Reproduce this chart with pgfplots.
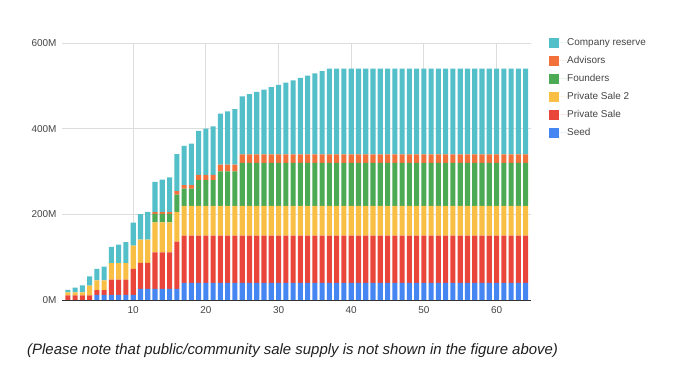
\documentclass[border=0pt]{standalone}
\usepackage{pgfplots}
\pgfplotsset{compat=1.18}
\usepackage{pgfplotstable}
\usepackage{fontspec}
\setmainfont{Liberation Sans}
\definecolor{cseed}{HTML}{4586F2}
\definecolor{cps}{HTML}{E9453A}
\definecolor{cpstwo}{HTML}{F9BF45}
\definecolor{cfnd}{HTML}{4CA954}
\definecolor{cadv}{HTML}{F2703A}
\definecolor{ccr}{HTML}{53BFC9}
\definecolor{ctick}{HTML}{444444}
\definecolor{cgrid}{HTML}{DDDDDD}
\pgfplotstableread{
n seed ps ps2 fnd adv cr
1 0 11 7 0 0 5.41
2 0 11 7 0 0 10.81
3 0 11 7 0 0 16.22
4 0 11 22.75 0 0 21.62
5 12 11 22.75 0 0 27.03
6 12 11 22.75 0 0 32.43
7 12 35.75 38.5 0 0 37.84
8 12 35.75 38.5 0 0 43.24
9 12 35.75 38.5 0 0 48.65
10 12 60.5 54.25 0 0 54.05
11 26 60.5 54.25 0 0 59.46
12 26 60.5 54.25 0 0 64.86
13 26 85.25 70 20 4 70.27
14 26 85.25 70 20 4 75.68
15 26 85.25 70 20 4 81.08
16 26 110 70 40 8 86.49
17 40 110 70 40 8 91.89
18 40 110 70 40 8 97.30
19 40 110 70 60 12 102.70
20 40 110 70 60 12 108.11
21 40 110 70 60 12 113.51
22 40 110 70 80 16 118.92
23 40 110 70 80 16 124.32
24 40 110 70 80 16 129.73
25 40 110 70 100 20 135.14
26 40 110 70 100 20 140.54
27 40 110 70 100 20 145.95
28 40 110 70 100 20 151.35
29 40 110 70 100 20 156.76
30 40 110 70 100 20 162.16
31 40 110 70 100 20 167.57
32 40 110 70 100 20 172.97
33 40 110 70 100 20 178.38
34 40 110 70 100 20 183.78
35 40 110 70 100 20 189.19
36 40 110 70 100 20 194.59
37 40 110 70 100 20 200
38 40 110 70 100 20 200
39 40 110 70 100 20 200
40 40 110 70 100 20 200
41 40 110 70 100 20 200
42 40 110 70 100 20 200
43 40 110 70 100 20 200
44 40 110 70 100 20 200
45 40 110 70 100 20 200
46 40 110 70 100 20 200
47 40 110 70 100 20 200
48 40 110 70 100 20 200
49 40 110 70 100 20 200
50 40 110 70 100 20 200
51 40 110 70 100 20 200
52 40 110 70 100 20 200
53 40 110 70 100 20 200
54 40 110 70 100 20 200
55 40 110 70 100 20 200
56 40 110 70 100 20 200
57 40 110 70 100 20 200
58 40 110 70 100 20 200
59 40 110 70 100 20 200
60 40 110 70 100 20 200
61 40 110 70 100 20 200
62 40 110 70 100 20 200
63 40 110 70 100 20 200
64 40 110 70 100 20 200
}\datatable
\begin{document}
\begin{tikzpicture}
\useasboundingbox (0,0) rectangle (690bp,372bp);
\begin{axis}[
  at={(62bp,72bp)}, anchor=south west,
  scale only axis, width=468.7bp, height=257bp,
  ybar stacked, bar width=0.7,
  xmin=0.2, xmax=64.7, ymin=0, ymax=600,
  xtick={10,20,30,40,50,60},
  ytick={0,200,400,600},
  yticklabels={0M,200M,400M,600M},
  /pgf/number format/assume math mode=true,
  tick label style={font=\fontsize{10}{12}\selectfont, text=ctick},
  major tick length=0pt,
  axis lines*=left,
  axis line style={draw=none},
  xmajorgrids=true, ymajorgrids=true,
  grid style={cgrid, line width=0.8pt},
  yticklabel style={anchor=east, xshift=-2bp},
  xticklabel style={yshift=-3bp},
  clip=false,
  reverse legend,
  legend cell align=left,
  legend style={at={(axis description cs:1.0395,1.0195)}, anchor=north west,
    draw=none, fill=none, inner sep=0pt, outer sep=0pt, row sep=8bp,
    font=\fontsize{10}{12}\selectfont, text=ctick,
    nodes={inner sep=0pt, text height=7.3bp, text depth=2bp}},
  legend image code/.code={\path (0bp,0bp) -- (18bp,0bp); \fill[#1,draw=none] (0bp,-5bp) rectangle (10bp,5bp);},
]
\addplot+[fill=cseed, draw=none] table[x=n, y=seed] {\datatable};
\addlegendentry{Seed}
\addplot+[fill=cps, draw=none] table[x=n, y=ps] {\datatable};
\addlegendentry{Private Sale}
\addplot+[fill=cpstwo, draw=none] table[x=n, y=ps2] {\datatable};
\addlegendentry{Private Sale 2}
\addplot+[fill=cfnd, draw=none] table[x=n, y=fnd] {\datatable};
\addlegendentry{Founders}
\addplot+[fill=cadv, draw=none] table[x=n, y=adv] {\datatable};
\addlegendentry{Advisors}
\addplot+[fill=ccr, draw=none] table[x=n, y=cr] {\datatable};
\addlegendentry{Company reserve}
\draw[color=black!80, line width=0.9pt] (axis cs:0.2,0) -- (axis cs:64.7,0);
\end{axis}
\node[anchor=west, inner sep=0pt, font=\fontsize{15}{18}\selectfont\itshape, text=black!88] at (27bp,21bp) {(Please note that public/community sale supply is not shown in the figure above)};
\end{tikzpicture}
\end{document}
